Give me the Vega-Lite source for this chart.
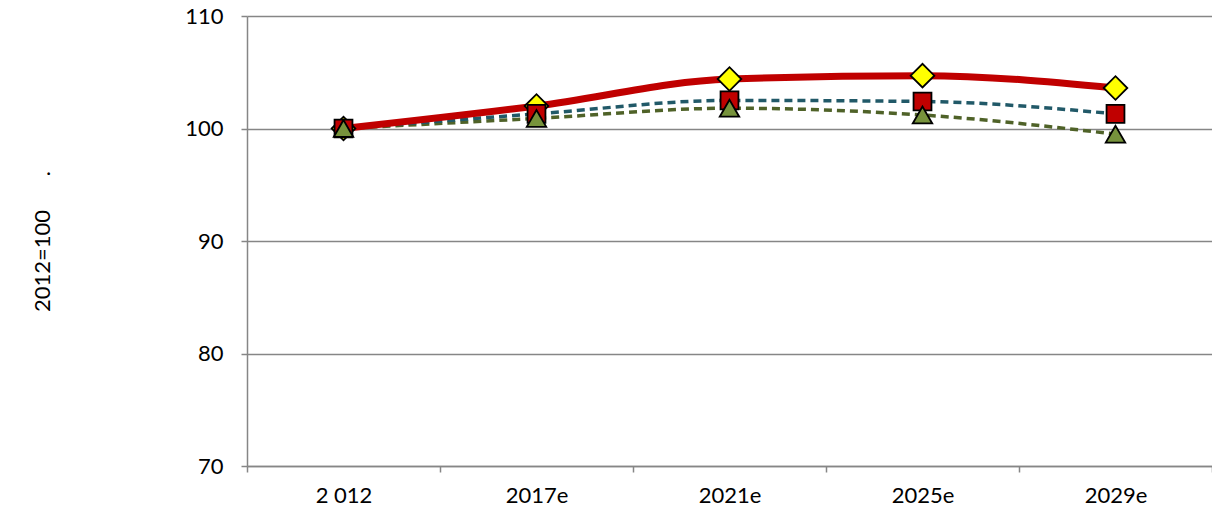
{
  "$schema": "https://vega.github.io/schema/vega-lite/v6.json",
  "width": 965,
  "height": 450,
  "autosize": {"type": "none"},
  "padding": {"left": 247, "top": 16, "right": 0, "bottom": 60},
  "background": "white",
  "config": {
    "view": {"stroke": null},
    "font": "Lato"
  },
  "data": {
    "values": [
      {"year": "2 012", "series": "A", "value": 100},
      {"year": "2017e", "series": "A", "value": 102.0},
      {"year": "2021e", "series": "A", "value": 104.4},
      {"year": "2025e", "series": "A", "value": 104.7},
      {"year": "2029e", "series": "A", "value": 103.6},
      {"year": "2 012", "series": "B", "value": 100},
      {"year": "2017e", "series": "B", "value": 101.3},
      {"year": "2021e", "series": "B", "value": 102.5},
      {"year": "2025e", "series": "B", "value": 102.4},
      {"year": "2029e", "series": "B", "value": 101.3},
      {"year": "2 012", "series": "C", "value": 100},
      {"year": "2017e", "series": "C", "value": 100.9},
      {"year": "2021e", "series": "C", "value": 101.8},
      {"year": "2025e", "series": "C", "value": 101.2},
      {"year": "2029e", "series": "C", "value": 99.5}
    ]
  },
  "encoding": {
    "x": {
      "field": "year", "type": "nominal", "sort": null,
      "scale": {"paddingInner": 0, "paddingOuter": 0},
      "axis": {
        "title": null, "labelAngle": 0, "tickBand": "extent",
        "domainColor": "#868686", "domainWidth": 1.5,
        "tickColor": "#868686", "tickWidth": 1.5, "tickSize": 6,
        "labelFontSize": 22, "labelColor": "#000000", "labelPadding": 13,
        "grid": false
      }
    },
    "y": {
      "field": "value", "type": "quantitative",
      "scale": {"domain": [70, 110], "nice": false, "zero": false},
      "axis": {
        "values": [70, 80, 90, 100, 110],
        "title": "2012=100\u00a0\u00a0\u00a0\u00a0\u00a0\u00a0.",
        "titleFontSize": 22, "titleFontWeight": "normal", "titleColor": "#000000",
        "titlePadding": 130,
        "domainColor": "#868686", "domainWidth": 1.5,
        "tickColor": "#868686", "tickWidth": 1.5, "tickSize": 6,
        "labelFontSize": 22, "labelColor": "#000000", "labelPadding": 18,
        "gridColor": "#868686", "gridWidth": 1.5
      }
    }
  },
  "layer": [
    {
      "transform": [{"filter": "datum.series === 'C'"}],
      "mark": {"type": "line", "color": "#4F6228", "strokeWidth": 3.5, "strokeDash": [8, 5], "interpolate": "monotone"}
    },
    {
      "transform": [{"filter": "datum.series === 'B'"}],
      "mark": {"type": "line", "color": "#215968", "strokeWidth": 3.5, "strokeDash": [8, 5], "interpolate": "monotone"}
    },
    {
      "transform": [{"filter": "datum.series === 'A'"}],
      "mark": {"type": "line", "color": "#C00000", "strokeWidth": 7, "interpolate": "monotone"}
    },
    {
      "transform": [{"filter": "datum.series === 'A'"}],
      "mark": {"type": "point", "shape": "diamond", "size": 560, "filled": true, "fill": "#FFFF00", "stroke": "#000000", "strokeWidth": 1.8, "opacity": 1}
    },
    {
      "transform": [{"filter": "datum.series === 'B'"}],
      "mark": {"type": "point", "shape": "square", "size": 320, "filled": true, "fill": "#C00000", "stroke": "#000000", "strokeWidth": 1.8, "opacity": 1}
    },
    {
      "transform": [{"filter": "datum.series === 'C'"}],
      "mark": {"type": "point", "shape": "triangle-up", "size": 380, "filled": true, "fill": "#77933C", "stroke": "#000000", "strokeWidth": 1.8, "opacity": 1}
    }
  ]
}
